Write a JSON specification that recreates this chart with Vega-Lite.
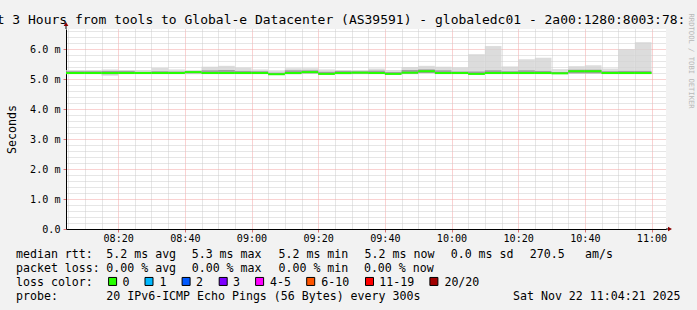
{
  "$schema": "https://vega.github.io/schema/vega-lite/v6.json",
  "width": 600,
  "height": 200,
  "autosize": {"type": "none"},
  "padding": {"left": 66, "top": 29, "right": 31, "bottom": 81},
  "background": "#f2f2f2",
  "config": {
    "view": {"fill": "#ffffff", "stroke": null},
    "axis": {"labelFont": "DejaVu Sans Mono", "titleFont": "DejaVu Sans Mono"}
  },
  "title": {
    "text": "Last 3 Hours from tools to Global-e Datacenter (AS39591) - globaledc01 - 2a00:1280:8003:78:",
    "anchor": "start",
    "frame": "group",
    "font": "DejaVu Sans Mono",
    "fontSize": 13,
    "fontWeight": "normal",
    "color": "#000000",
    "baseline": "alphabetic",
    "offset": -24,
    "dx": -92.8
  },
  "datasets": {
    "rtt": [
      {"s": "2025-11-22T08:00:00", "e": "2025-11-22T08:05:00", "med": 5.21, "min": 5.17, "q1": 5.19, "q3": 5.27, "max": 5.31},
      {"s": "2025-11-22T08:05:00", "e": "2025-11-22T08:10:00", "med": 5.21, "min": 5.17, "q1": 5.19, "q3": 5.27, "max": 5.31},
      {"s": "2025-11-22T08:10:00", "e": "2025-11-22T08:15:00", "med": 5.21, "min": 5.17, "q1": 5.19, "q3": 5.27, "max": 5.31},
      {"s": "2025-11-22T08:15:00", "e": "2025-11-22T08:20:00", "med": 5.21, "min": 5.12, "q1": 5.17, "q3": 5.28, "max": 5.33},
      {"s": "2025-11-22T08:20:00", "e": "2025-11-22T08:25:00", "med": 5.21, "min": 5.17, "q1": 5.19, "q3": 5.28, "max": 5.31},
      {"s": "2025-11-22T08:25:00", "e": "2025-11-22T08:30:00", "med": 5.21, "min": 5.17, "q1": 5.19, "q3": 5.25, "max": 5.31},
      {"s": "2025-11-22T08:30:00", "e": "2025-11-22T08:35:00", "med": 5.21, "min": 5.17, "q1": 5.19, "q3": 5.27, "max": 5.38},
      {"s": "2025-11-22T08:35:00", "e": "2025-11-22T08:40:00", "med": 5.21, "min": 5.17, "q1": 5.19, "q3": 5.26, "max": 5.33},
      {"s": "2025-11-22T08:40:00", "e": "2025-11-22T08:45:00", "med": 5.24, "min": 5.17, "q1": 5.20, "q3": 5.27, "max": 5.31},
      {"s": "2025-11-22T08:45:00", "e": "2025-11-22T08:50:00", "med": 5.21, "min": 5.17, "q1": 5.19, "q3": 5.30, "max": 5.42},
      {"s": "2025-11-22T08:50:00", "e": "2025-11-22T08:55:00", "med": 5.21, "min": 5.17, "q1": 5.19, "q3": 5.31, "max": 5.45},
      {"s": "2025-11-22T08:55:00", "e": "2025-11-22T09:00:00", "med": 5.21, "min": 5.17, "q1": 5.19, "q3": 5.28, "max": 5.39},
      {"s": "2025-11-22T09:00:00", "e": "2025-11-22T09:05:00", "med": 5.21, "min": 5.17, "q1": 5.19, "q3": 5.27, "max": 5.33},
      {"s": "2025-11-22T09:05:00", "e": "2025-11-22T09:10:00", "med": 5.17, "min": 5.14, "q1": 5.16, "q3": 5.22, "max": 5.30},
      {"s": "2025-11-22T09:10:00", "e": "2025-11-22T09:15:00", "med": 5.21, "min": 5.16, "q1": 5.19, "q3": 5.30, "max": 5.37},
      {"s": "2025-11-22T09:15:00", "e": "2025-11-22T09:20:00", "med": 5.24, "min": 5.18, "q1": 5.20, "q3": 5.30, "max": 5.37},
      {"s": "2025-11-22T09:20:00", "e": "2025-11-22T09:25:00", "med": 5.18, "min": 5.15, "q1": 5.17, "q3": 5.25, "max": 5.33},
      {"s": "2025-11-22T09:25:00", "e": "2025-11-22T09:30:00", "med": 5.21, "min": 5.16, "q1": 5.18, "q3": 5.28, "max": 5.31},
      {"s": "2025-11-22T09:30:00", "e": "2025-11-22T09:35:00", "med": 5.22, "min": 5.17, "q1": 5.19, "q3": 5.27, "max": 5.31},
      {"s": "2025-11-22T09:35:00", "e": "2025-11-22T09:40:00", "med": 5.21, "min": 5.17, "q1": 5.19, "q3": 5.29, "max": 5.36},
      {"s": "2025-11-22T09:40:00", "e": "2025-11-22T09:45:00", "med": 5.18, "min": 5.15, "q1": 5.17, "q3": 5.24, "max": 5.31},
      {"s": "2025-11-22T09:45:00", "e": "2025-11-22T09:50:00", "med": 5.22, "min": 5.17, "q1": 5.19, "q3": 5.31, "max": 5.41},
      {"s": "2025-11-22T09:50:00", "e": "2025-11-22T09:55:00", "med": 5.27, "min": 5.19, "q1": 5.21, "q3": 5.33, "max": 5.45},
      {"s": "2025-11-22T09:55:00", "e": "2025-11-22T10:00:00", "med": 5.21, "min": 5.17, "q1": 5.19, "q3": 5.30, "max": 5.42},
      {"s": "2025-11-22T10:00:00", "e": "2025-11-22T10:05:00", "med": 5.21, "min": 5.17, "q1": 5.19, "q3": 5.26, "max": 5.40},
      {"s": "2025-11-22T10:05:00", "e": "2025-11-22T10:10:00", "med": 5.18, "min": 5.15, "q1": 5.17, "q3": 5.26, "max": 5.84},
      {"s": "2025-11-22T10:10:00", "e": "2025-11-22T10:15:00", "med": 5.21, "min": 5.17, "q1": 5.19, "q3": 5.30, "max": 6.11},
      {"s": "2025-11-22T10:15:00", "e": "2025-11-22T10:20:00", "med": 5.21, "min": 5.17, "q1": 5.19, "q3": 5.27, "max": 5.43},
      {"s": "2025-11-22T10:20:00", "e": "2025-11-22T10:25:00", "med": 5.21, "min": 5.17, "q1": 5.19, "q3": 5.30, "max": 5.67},
      {"s": "2025-11-22T10:25:00", "e": "2025-11-22T10:30:00", "med": 5.21, "min": 5.17, "q1": 5.19, "q3": 5.28, "max": 5.72},
      {"s": "2025-11-22T10:30:00", "e": "2025-11-22T10:35:00", "med": 5.20, "min": 5.17, "q1": 5.19, "q3": 5.24, "max": 5.34},
      {"s": "2025-11-22T10:35:00", "e": "2025-11-22T10:40:00", "med": 5.27, "min": 5.18, "q1": 5.20, "q3": 5.32, "max": 5.44},
      {"s": "2025-11-22T10:40:00", "e": "2025-11-22T10:45:00", "med": 5.27, "min": 5.18, "q1": 5.20, "q3": 5.32, "max": 5.47},
      {"s": "2025-11-22T10:45:00", "e": "2025-11-22T10:50:00", "med": 5.21, "min": 5.17, "q1": 5.19, "q3": 5.27, "max": 5.36},
      {"s": "2025-11-22T10:50:00", "e": "2025-11-22T10:55:00", "med": 5.21, "min": 5.17, "q1": 5.19, "q3": 5.28, "max": 6.01},
      {"s": "2025-11-22T10:55:00", "e": "2025-11-22T11:00:00", "med": 5.21, "min": 5.17, "q1": 5.19, "q3": 5.28, "max": 6.24}
    ],
    "axisEnds": [
      {"t0": "2025-11-22T08:04:21", "t1": "2025-11-22T11:04:21", "t2": "2025-11-22T11:05:20", "t3": "2025-11-22T11:05:33", "top": 6.68, "tip": 6.84, "arrow": 6.85, "base": 0}
    ],
    "legendText": [
      {"line": 0, "col": 0, "text": "median rtt:"},
      {"line": 0, "col": 12.9, "text": "5.2 ms avg"},
      {"line": 0, "col": 25.1, "text": "5.3 ms max"},
      {"line": 0, "col": 37.5, "text": "5.2 ms min"},
      {"line": 0, "col": 49.8, "text": "5.2 ms now"},
      {"line": 0, "col": 62.1, "text": "0.0 ms sd"},
      {"line": 0, "col": 73.4, "text": "270.5"},
      {"line": 0, "col": 81.3, "text": "am/s"},
      {"line": 1, "col": 0, "text": "packet loss:"},
      {"line": 1, "col": 12.9, "text": "0.00 % avg"},
      {"line": 1, "col": 25.1, "text": "0.00 % max"},
      {"line": 1, "col": 37.5, "text": "0.00 % min"},
      {"line": 1, "col": 49.7, "text": "0.00 % now"},
      {"line": 2, "col": 0, "text": "loss color:"},
      {"line": 2, "col": 15.2, "text": "0"},
      {"line": 2, "col": 20.5, "text": "1"},
      {"line": 2, "col": 25.7, "text": "2"},
      {"line": 2, "col": 31.0, "text": "3"},
      {"line": 2, "col": 36.3, "text": "4-5"},
      {"line": 2, "col": 43.6, "text": "6-10"},
      {"line": 2, "col": 51.9, "text": "11-19"},
      {"line": 2, "col": 61.2, "text": "20/20"},
      {"line": 3, "col": 0, "text": "probe:"},
      {"line": 3, "col": 12.9, "text": "20 IPv6-ICMP Echo Pings (56 Bytes) every 300s"},
      {"line": 3, "col": 71.0, "text": "Sat Nov 22 11:04:21 2025"}
    ],
    "lossColors": [
      {"loss": "0", "col": 13.8, "line": 2},
      {"loss": "1", "col": 19.0, "line": 2},
      {"loss": "2", "col": 24.3, "line": 2},
      {"loss": "3", "col": 29.6, "line": 2},
      {"loss": "4-5", "col": 34.8, "line": 2},
      {"loss": "6-10", "col": 42.1, "line": 2},
      {"loss": "11-19", "col": 50.5, "line": 2},
      {"loss": "20/20", "col": 59.7, "line": 2}
    ]
  },
  "layer": [
    {
      "data": {"name": "rtt"},
      "mark": {"type": "rect", "fill": "#d3d3d3", "opacity": 0.8, "clip": true},
      "encoding": {
        "x": {"field": "s", "type": "temporal",
          "scale": {"domain": [{"year": 2025, "month": 11, "date": 22, "hours": 8, "minutes": 4, "seconds": 21}, {"year": 2025, "month": 11, "date": 22, "hours": 11, "minutes": 4, "seconds": 21}], "nice": false},
          "axis": {"orient": "bottom", "grid": true, "gridColor": "#cdcdcd", "gridDash": [1, 1], "labels": false, "ticks": false, "domain": false, "title": null,
            "values": [
              {"year": 2025, "month": 11, "date": 22, "hours": 8, "minutes": 5},
              {"year": 2025, "month": 11, "date": 22, "hours": 8, "minutes": 10},
              {"year": 2025, "month": 11, "date": 22, "hours": 8, "minutes": 15},
              {"year": 2025, "month": 11, "date": 22, "hours": 8, "minutes": 25},
              {"year": 2025, "month": 11, "date": 22, "hours": 8, "minutes": 30},
              {"year": 2025, "month": 11, "date": 22, "hours": 8, "minutes": 35},
              {"year": 2025, "month": 11, "date": 22, "hours": 8, "minutes": 45},
              {"year": 2025, "month": 11, "date": 22, "hours": 8, "minutes": 50},
              {"year": 2025, "month": 11, "date": 22, "hours": 8, "minutes": 55},
              {"year": 2025, "month": 11, "date": 22, "hours": 9, "minutes": 5},
              {"year": 2025, "month": 11, "date": 22, "hours": 9, "minutes": 10},
              {"year": 2025, "month": 11, "date": 22, "hours": 9, "minutes": 15},
              {"year": 2025, "month": 11, "date": 22, "hours": 9, "minutes": 25},
              {"year": 2025, "month": 11, "date": 22, "hours": 9, "minutes": 30},
              {"year": 2025, "month": 11, "date": 22, "hours": 9, "minutes": 35},
              {"year": 2025, "month": 11, "date": 22, "hours": 9, "minutes": 45},
              {"year": 2025, "month": 11, "date": 22, "hours": 9, "minutes": 50},
              {"year": 2025, "month": 11, "date": 22, "hours": 9, "minutes": 55},
              {"year": 2025, "month": 11, "date": 22, "hours": 10, "minutes": 5},
              {"year": 2025, "month": 11, "date": 22, "hours": 10, "minutes": 10},
              {"year": 2025, "month": 11, "date": 22, "hours": 10, "minutes": 15},
              {"year": 2025, "month": 11, "date": 22, "hours": 10, "minutes": 25},
              {"year": 2025, "month": 11, "date": 22, "hours": 10, "minutes": 30},
              {"year": 2025, "month": 11, "date": 22, "hours": 10, "minutes": 35},
              {"year": 2025, "month": 11, "date": 22, "hours": 10, "minutes": 45},
              {"year": 2025, "month": 11, "date": 22, "hours": 10, "minutes": 50},
              {"year": 2025, "month": 11, "date": 22, "hours": 10, "minutes": 55}
            ]}},
        "x2": {"field": "e"},
        "y": {"field": "min", "type": "quantitative",
          "scale": {"domain": [0, 6.68], "nice": false, "zero": false},
          "axis": {"orient": "left", "values": [0.2, 0.4, 0.6, 0.8, 1.2, 1.4, 1.6, 1.8, 2.2, 2.4, 2.6, 2.8, 3.2, 3.4, 3.6, 3.8, 4.2, 4.4, 4.6, 4.8, 5.2, 5.4, 5.6, 5.8, 6.2, 6.4, 6.6], "grid": true, "gridColor": "#cdcdcd", "gridDash": [1, 1], "labels": false, "ticks": false, "domain": false, "title": null}},
        "y2": {"field": "max"}
      }
    },
    {
      "data": {"name": "rtt"},
      "mark": {"type": "rect", "fill": "#606060", "opacity": 0.5, "clip": true},
      "encoding": {
        "x": {"field": "s", "type": "temporal",
          "scale": {"domain": [{"year": 2025, "month": 11, "date": 22, "hours": 8, "minutes": 4, "seconds": 21}, {"year": 2025, "month": 11, "date": 22, "hours": 11, "minutes": 4, "seconds": 21}], "nice": false},
          "axis": {"orient": "bottom", "format": "%H:%M", "grid": true, "gridColor": "#f4a4a4", "gridDash": [1, 1], "labelFont": "DejaVu Sans Mono", "labelFontSize": 10.1, "labelColor": "#000000", "labelBaseline": "alphabetic", "labelPadding": 9, "labelFlush": false, "tickSize": 3, "tickColor": "#e07070", "domainColor": "#000000", "title": null,
            "values": [
              {"year": 2025, "month": 11, "date": 22, "hours": 8, "minutes": 20},
              {"year": 2025, "month": 11, "date": 22, "hours": 8, "minutes": 40},
              {"year": 2025, "month": 11, "date": 22, "hours": 9, "minutes": 0},
              {"year": 2025, "month": 11, "date": 22, "hours": 9, "minutes": 20},
              {"year": 2025, "month": 11, "date": 22, "hours": 9, "minutes": 40},
              {"year": 2025, "month": 11, "date": 22, "hours": 10, "minutes": 0},
              {"year": 2025, "month": 11, "date": 22, "hours": 10, "minutes": 20},
              {"year": 2025, "month": 11, "date": 22, "hours": 10, "minutes": 40},
              {"year": 2025, "month": 11, "date": 22, "hours": 11, "minutes": 0}
            ]}},
        "x2": {"field": "e"},
        "y": {"field": "q1", "type": "quantitative",
          "scale": {"domain": [0, 6.68], "nice": false, "zero": false},
          "axis": {"orient": "left", "values": [0, 1, 2, 3, 4, 5, 6], "grid": true, "gridColor": "#f4a4a4", "gridDash": [1, 1],
            "labelExpr": "datum.value === 0 ? '0.0' : format(datum.value, '.1f') + ' m'", "labelFont": "DejaVu Sans Mono", "labelFontSize": 10.1, "labelColor": "#000000", "labelPadding": 3, "tickSize": 3, "tickColor": "#e07070", "domainColor": "#000000",
            "title": "Seconds", "titleFont": "DejaVu Sans Mono", "titleFontSize": 11.6, "titleFontWeight": "normal", "titleColor": "#000000", "titleAngle": -90, "titleX": -51, "titleY": 100, "titleAlign": "center", "titleBaseline": "alphabetic"}},
        "y2": {"field": "q3"}
      }
    },
    {
      "data": {"name": "rtt"},
      "mark": {"type": "rule", "color": "#26ff00", "strokeWidth": 2, "clip": true},
      "encoding": {
        "x": {"field": "s", "type": "temporal", "axis": null,
          "scale": {"domain": [{"year": 2025, "month": 11, "date": 22, "hours": 8, "minutes": 4, "seconds": 21}, {"year": 2025, "month": 11, "date": 22, "hours": 11, "minutes": 4, "seconds": 21}], "nice": false}},
        "x2": {"field": "e"},
        "y": {"field": "med", "type": "quantitative", "axis": null,
          "scale": {"domain": [0, 6.68], "nice": false, "zero": false}}
      }
    },
    {
      "data": {"name": "axisEnds"},
      "mark": {"type": "rule", "color": "#000000"},
      "encoding": {
        "x": {"field": "t0", "type": "temporal", "axis": null,
          "scale": {"domain": [{"year": 2025, "month": 11, "date": 22, "hours": 8, "minutes": 4, "seconds": 21}, {"year": 2025, "month": 11, "date": 22, "hours": 11, "minutes": 4, "seconds": 21}], "nice": false}},
        "y": {"field": "top", "type": "quantitative", "axis": null,
          "scale": {"domain": [0, 6.68], "nice": false, "zero": false}},
        "y2": {"field": "tip"}
      }
    },
    {
      "data": {"name": "axisEnds"},
      "mark": {"type": "rule", "color": "#000000"},
      "encoding": {
        "x": {"field": "t1", "type": "temporal", "axis": null,
          "scale": {"domain": [{"year": 2025, "month": 11, "date": 22, "hours": 8, "minutes": 4, "seconds": 21}, {"year": 2025, "month": 11, "date": 22, "hours": 11, "minutes": 4, "seconds": 21}], "nice": false}},
        "x2": {"field": "t2"},
        "y": {"field": "base", "type": "quantitative", "axis": null,
          "scale": {"domain": [0, 6.68], "nice": false, "zero": false}}
      }
    },
    {
      "data": {"name": "axisEnds"},
      "mark": {"type": "point", "shape": "triangle-up", "size": 22, "filled": true, "color": "#8b0000", "opacity": 1},
      "encoding": {
        "x": {"field": "t0", "type": "temporal", "axis": null,
          "scale": {"domain": [{"year": 2025, "month": 11, "date": 22, "hours": 8, "minutes": 4, "seconds": 21}, {"year": 2025, "month": 11, "date": 22, "hours": 11, "minutes": 4, "seconds": 21}], "nice": false}},
        "y": {"field": "arrow", "type": "quantitative",
          "scale": {"domain": [0, 6.68], "nice": false, "zero": false},
          "axis": {"orient": "right", "labels": false, "ticks": false, "domain": false, "grid": false,
            "title": "RRDTOOL / TOBI OETIKER", "titleFont": "DejaVu Sans Mono", "titleFontSize": 7.2, "titleFontWeight": "normal", "titleColor": "#b8b8b8", "titleAngle": 90, "titleX": 24, "titleY": -16, "titleAlign": "left", "titleBaseline": "middle"}}
      }
    },
    {
      "data": {"name": "axisEnds"},
      "mark": {"type": "point", "shape": "triangle-right", "size": 22, "filled": true, "color": "#8b0000", "opacity": 1},
      "encoding": {
        "x": {"field": "t3", "type": "temporal", "axis": null,
          "scale": {"domain": [{"year": 2025, "month": 11, "date": 22, "hours": 8, "minutes": 4, "seconds": 21}, {"year": 2025, "month": 11, "date": 22, "hours": 11, "minutes": 4, "seconds": 21}], "nice": false}},
        "y": {"field": "base", "type": "quantitative", "axis": null,
          "scale": {"domain": [0, 6.68], "nice": false, "zero": false}}
      }
    },
    {
      "data": {"name": "legendText"},
      "mark": {"type": "text", "align": "left", "baseline": "alphabetic", "font": "DejaVu Sans Mono", "fontSize": 11.6, "color": "#000000"},
      "encoding": {
        "x": {"field": "col", "type": "quantitative", "axis": null, "scale": {"domain": [0, 10], "range": [-50, 20], "nice": false, "zero": false}},
        "y": {"field": "line", "type": "quantitative", "axis": null, "scale": {"domain": [0, 3], "range": [229.2, 271], "nice": false, "zero": false}},
        "text": {"field": "text"}
      }
    },
    {
      "data": {"name": "lossColors"},
      "mark": {"type": "point", "shape": "square", "size": 64, "filled": true, "opacity": 1, "stroke": "#000000", "strokeWidth": 1, "yOffset": -4.6},
      "encoding": {
        "x": {"field": "col", "type": "quantitative", "axis": null, "scale": {"domain": [0, 10], "range": [-50, 20], "nice": false, "zero": false}},
        "y": {"field": "line", "type": "quantitative", "axis": null, "scale": {"domain": [0, 3], "range": [229.2, 271], "nice": false, "zero": false}},
        "fill": {"field": "loss", "type": "nominal", "legend": null,
          "scale": {"domain": ["0", "1", "2", "3", "4-5", "6-10", "11-19", "20/20"], "range": ["#26ff00", "#00b8ff", "#0059ff", "#7e00ff", "#ff00ff", "#ff5500", "#ff0000", "#a10000"]}}
      }
    }
  ],
  "resolve": {"scale": {"x": "independent", "y": "independent"}}
}
